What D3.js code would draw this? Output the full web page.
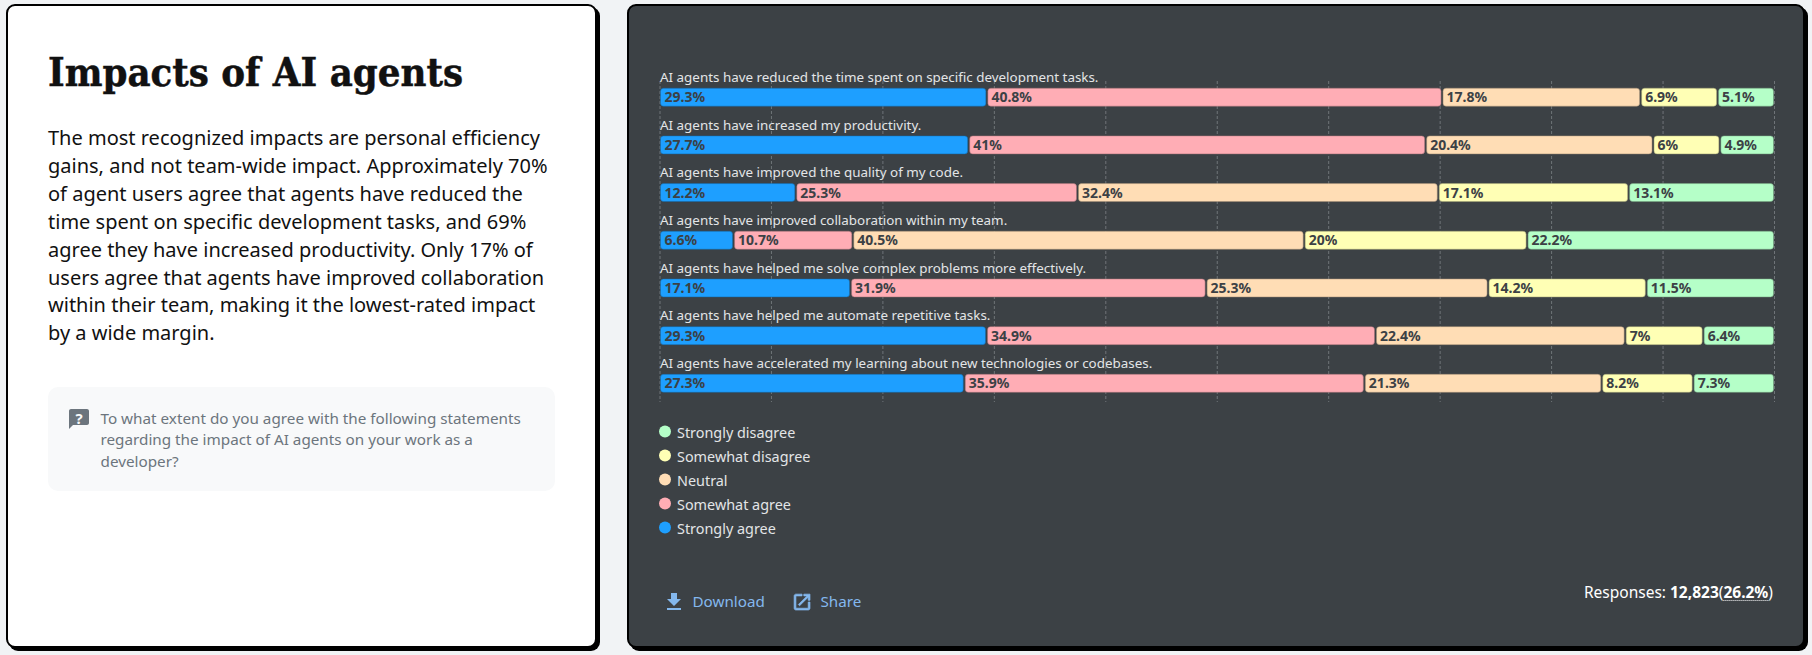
<!DOCTYPE html>
<html>
<head>
<meta charset="utf-8">
<script src="https://cdn.jsdelivr.net/npm/d3@7"></script>
<style>
html, body { margin: 0; padding: 0; background: #f1f3f5; overflow: hidden; }
svg { display: block; }
text { font-family: "Noto Sans", sans-serif; }
</style>
</head>
<body>
<svg width="1812" height="655"></svg>
<script>
// chart values
statements = [
	"AI agents have reduced the time spent on specific development tasks.",
	"AI agents have increased my productivity.",
	"AI agents have improved the quality of my code.",
	"AI agents have improved collaboration within my team.",
	"AI agents have helped me solve complex problems more effectively.",
	"AI agents have helped me automate repetitive tasks.",
	"AI agents have accelerated my learning about new technologies or codebases."
];
stronglyAgree    = [29.3, 27.7, 12.2, 6.6, 17.1, 29.3, 27.3];
somewhatAgree    = [40.8, 41, 25.3, 10.7, 31.9, 34.9, 35.9];
neutral          = [17.8, 20.4, 32.4, 40.5, 25.3, 22.4, 21.3];
somewhatDisagree = [6.9, 6, 17.1, 20, 14.2, 7, 8.2];
stronglyDisagree = [5.1, 4.9, 13.1, 22.2, 11.5, 6.4, 7.3];

seriesNames = ["Strongly agree", "Somewhat agree", "Neutral", "Somewhat disagree", "Strongly disagree"];
seriesValues = [stronglyAgree, somewhatAgree, neutral, somewhatDisagree, stronglyDisagree];
seriesColors = ["#1e9fff", "#ffadb5", "#ffddb5", "#ffffb5", "#b5ffc8"];
legendOrder = ["Strongly disagree", "Somewhat disagree", "Neutral", "Somewhat agree", "Strongly agree"];

titleText = "Impacts of AI agents";
bodyLines = [
	"The most recognized impacts are personal efficiency",
	"gains, and not team-wide impact. Approximately 70%",
	"of agent users agree that agents have reduced the",
	"time spent on specific development tasks, and 69%",
	"agree they have increased productivity. Only 17% of",
	"users agree that agents have improved collaboration",
	"within their team, making it the lowest-rated impact",
	"by a wide margin."
];
noteLines = [
	"To what extent do you agree with the following statements",
	"regarding the impact of AI agents on your work as a",
	"developer?"
];

svg = d3.select("svg");

drawCard(6, 4, 591, 644, "#ffffff");
drawCard(627, 4, 1178, 644, "#3c4145");
drawIntro();
drawChart();
drawLegend();
drawFooter();

function drawCard(x, y, w, h, fill) {
	svg.append("rect")
		.attr("x", x + 3).attr("y", y + 3)
		.attr("width", w).attr("height", h)
		.attr("rx", 9)
		.attr("fill", "#000");
	svg.append("rect")
		.attr("x", x + 1).attr("y", y + 1)
		.attr("width", w - 2).attr("height", h - 2)
		.attr("rx", 8)
		.attr("fill", fill)
		.attr("stroke", "#000")
		.attr("stroke-width", 2);
}

function drawIntro() {
	svg.append("text")
		.attr("x", 48).attr("y", 86)
		.attr("textLength", 415)
		.attr("lengthAdjust", "spacingAndGlyphs")
		.style("font-family", "'DejaVu Serif', serif")
		.style("font-weight", 700)
		.style("font-size", "40px")
		.attr("fill", "#111")
		.attr("stroke", "#111")
		.attr("stroke-width", 0.5)
		.text(titleText);

	bodyLines.forEach(function(line, i) {
		svg.append("text")
			.attr("x", 48).attr("y", 145 + i * 27.9)
			.style("font-size", "20px")
			.attr("fill", "#111")
			.text(line);
	});

	svg.append("rect")
		.attr("x", 48).attr("y", 387)
		.attr("width", 507).attr("height", 104)
		.attr("rx", 10)
		.attr("fill", "#f8f9fa");
	svg.append("path")
		.attr("transform", "translate(67,407)")
		.attr("d", "M20 2H4c-1.1 0-2 .9-2 2v18l4-4h14c1.1 0 2-.9 2-2V4c0-1.100-.9-2-2-2z")
		.attr("fill", "#6c757d");
	svg.append("text")
		.attr("x", 79).attr("y", 424)
		.attr("text-anchor", "middle")
		.style("font-size", "15px")
		.style("font-weight", 700)
		.attr("fill", "#f8f9fa")
		.text("?");
	noteLines.forEach(function(line, i) {
		svg.append("text")
			.attr("x", 100.5).attr("y", 423.5 + i * 21.5)
			.style("font-size", "15.25px")
			.attr("fill", "#6c757d")
			.text(line);
	});
}

function drawChart() {
	rows = statements.map(function(s, i) {
		row = { statement: s };
		seriesNames.forEach(function(name, j) { row[name] = seriesValues[j][i]; });
		return row;
	});
	stack = d3.stack().keys(seriesNames).offset(d3.stackOffsetExpand);
	layers = stack(rows);

	x = d3.scaleLinear().domain([0, 1]).range([659.5, 1774]);
	y = d3.scaleBand().domain(statements).range([64, 397.8]).paddingInner(0);
	color = d3.scaleOrdinal().domain(seriesNames).range(seriesColors);
	barHeight = 19;

	// dashed grid, one line per 10%
	grid = svg.append("g")
		.attr("class", "grid")
		.attr("transform", "translate(0,81)")
		.call(d3.axisBottom(x).ticks(10).tickSize(321).tickFormat(""));
	grid.select(".domain").remove();
	grid.selectAll("line")
		.attr("stroke", "#6f7478")
		.attr("stroke-dasharray", "3 2");

	svg.append("g").selectAll("text")
		.data(statements)
		.join("text")
		.attr("x", 660)
		.attr("y", function(d) { return y(d) + 18; })
		.style("font-size", "13.4px")
		.attr("fill", "#e3e5e7")
		.text(function(d) { return d; });

	layers.forEach(function(layer, j) {
		g = svg.append("g").attr("class", "series");
		g.selectAll("rect")
			.data(layer)
			.join("rect")
			.attr("x", function(d) { return x(d[0]) + (j ? 1.5 : 1); })
			.attr("y", function(d) { return y(d.data.statement) + 24.2; })
			.attr("width", function(d) { return x(d[1]) - x(d[0]) - (j ? 2 : 1.5); })
			.attr("height", barHeight - 1)
			.attr("rx", 3)
			.attr("fill", color(layer.key))
			.attr("stroke", d3.color(color(layer.key)).darker(1.2))
			.attr("stroke-opacity", 0.5);
		g.selectAll("text")
			.data(layer)
			.join("text")
			.attr("x", function(d) { return x(d[0]) + 5; })
			.attr("y", function(d) { return y(d.data.statement) + 23.7 + barHeight / 2 + 5; })
			.style("font-size", "14px")
			.style("font-weight", 700)
			.attr("fill", "#3c4145")
			.text(function(d) { return d.data[layer.key] + "%"; });
	});
}

function drawLegend() {
	legendY = d3.scalePoint().domain(legendOrder).range([431.5, 527.5]);
	color = d3.scaleOrdinal().domain(seriesNames).range(seriesColors);
	legend = svg.append("g").attr("class", "legend");
	legend.selectAll("circle")
		.data(legendOrder)
		.join("circle")
		.attr("cx", 665)
		.attr("cy", function(d) { return legendY(d); })
		.attr("r", 6)
		.attr("fill", function(d) { return color(d); });
	legend.selectAll("text")
		.data(legendOrder)
		.join("text")
		.attr("x", 677)
		.attr("y", function(d) { return legendY(d) + 6; })
		.style("font-size", "14.4px")
		.attr("fill", "#e3e5e7")
		.text(function(d) { return d; });
}

function drawFooter() {
	linkColor = "#84b8ee";
	svg.append("path")
		.attr("transform", "translate(662,590)")
		.attr("d", "M19 9h-4V3H9v6H5l7 7 7-7zM5 18v2h14v-2H5z")
		.attr("fill", linkColor);
	svg.append("text")
		.attr("x", 692.5).attr("y", 606.5)
		.style("font-size", "15.2px")
		.attr("fill", linkColor)
		.text("Download");
	svg.append("path")
		.attr("transform", "translate(791.5,591.5) scale(0.88)")
		.attr("d", "M19 19H5V5h7V3H5c-1.11 0-2 .9-2 2v14c0 1.1.89 2 2 2h14c1.1 0 2-.9 2-2v-7h-2v7zM14 3v2h3.59l-9.83 9.83 1.41 1.41L19 6.41V10h2V3h-7z")
		.attr("fill", linkColor)
		.attr("stroke", linkColor)
		.attr("stroke-width", 0.8);
	svg.append("text")
		.attr("x", 820.5).attr("y", 606.5)
		.style("font-size", "15.2px")
		.attr("fill", linkColor)
		.text("Share");

	resp = svg.append("text")
		.attr("x", 1773).attr("y", 598)
		.attr("text-anchor", "end")
		.style("font-size", "15.5px")
		.attr("fill", "#fff");
	resp.append("tspan").text("Responses: ");
	resp.append("tspan").style("font-weight", 700).text("12,823");
	resp.append("tspan").text("(");
	pct = resp.append("tspan").style("font-weight", 700).text("26.2%");
	resp.append("tspan").text(")");
	box = pct.node().getExtentOfChar(0);
	svg.append("line")
		.attr("x1", box.x).attr("x2", box.x + pct.node().getComputedTextLength())
		.attr("y1", 600.5).attr("y2", 600.5)
		.attr("stroke", "#fff")
		.attr("stroke-dasharray", "1 1");
}
</script>
</body>
</html>
